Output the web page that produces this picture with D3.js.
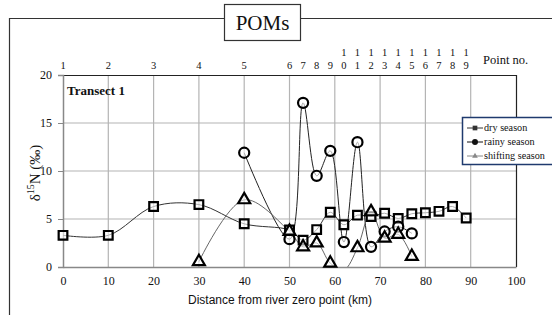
<!DOCTYPE html>
<html>
<head>
<meta charset="utf-8">
<script src="https://cdn.jsdelivr.net/npm/d3@7"></script>
<style>
    body { margin: 0; background: #fff; }
    svg { display: block; }
    text { fill: #111; }
</style>
</head>
<body>
<div id="chart"></div>
<script>
// distances (km) of the sampling points
const distances = [0, 10, 20, 30, 40, 50, 53, 56, 59, 62, 65, 68, 71, 74, 77, 80, 83, 86, 89];
const pointNos = ["1", "2", "3", "4", "5", "6", "7", "8", "9", "10", "11", "12", "13", "14", "15", "16", "17", "18", "19"];

const dryValues = [3.3, 3.3, 6.3, 6.5, 4.5, 3.85, 2.8, 3.9, 5.7, 4.4, 5.4, 5.25, 5.6, 5.05, 5.55, 5.65, 5.8, 6.3, 5.1];

const rainyDist = [40, 50, 53, 56, 59, 62, 65, 68, 71, 74, 77];
const rainyValues = [11.9, 2.9, 17.1, 9.5, 12.1, 2.6, 13.0, 2.1, 3.7, 4.2, 3.5];

const shiftDist = [30, 40, 50, 53, 56, 59, 62, 65, 68, 71, 74, 77];
const shiftValues = [0.55, 7.0, 3.7, 2.1, 2.5, 0.4, -0.3, 2.0, 5.75, 3.0, 3.4, 1.1];

const xTicks = [0, 10, 20, 30, 40, 50, 60, 70, 80, 90, 100];
const yTicks = [0, 5, 10, 15, 20];

const seriesNames = ["dry season", "rainy season", "shifting season"];

const W = 552, H = 315;
const plot = {left: 63, right: 516, top: 75, bottom: 267};

const svg = d3.select('#chart')
    .append('svg')
    .attr('width', W)
    .attr('height', H);

const x = d3.scaleLinear().domain([0, 100]).range([plot.left, plot.right]);
const y = d3.scaleLinear().domain([0, 20]).range([plot.bottom, plot.top]);

// outer frame with the title box
svg.append('path')
    .attr('d', `M9.5,${H} V18.5 H224 M301,18.5 H${W}`)
    .attr('fill', 'none')
    .attr('stroke', '#333')
    .attr('stroke-width', 1.2);

svg.append('rect')
    .attr('x', 224.5).attr('y', 4.5)
    .attr('width', 76).attr('height', 36)
    .attr('fill', '#fff')
    .attr('stroke', '#333')
    .attr('stroke-width', 1.2);

svg.append('text')
    .attr('x', 262.5).attr('y', 30)
    .attr('text-anchor', 'middle')
    .style('font-family', 'Liberation Serif, serif')
    .style('font-size', '21px')
    .text('POMs');

// grid
svg.append('g')
    .selectAll('line')
    .data(xTicks.slice(1, -1))
    .enter().append('line')
    .attr('x1', d => x(d)).attr('x2', d => x(d))
    .attr('y1', plot.top).attr('y2', plot.bottom)
    .attr('stroke', '#b4b4b4')
    .attr('stroke-width', 1.2);

svg.append('g')
    .selectAll('line')
    .data(yTicks.slice(1, -1))
    .enter().append('line')
    .attr('x1', plot.left).attr('x2', plot.right)
    .attr('y1', d => y(d)).attr('y2', d => y(d))
    .attr('stroke', '#b4b4b4')
    .attr('stroke-width', 1.2);

// plot border top / right
svg.append('path')
    .attr('d', `M${plot.left},${plot.top + 0.5} H${plot.right + 0.5} V${plot.bottom}`)
    .attr('fill', 'none')
    .attr('stroke', '#222')
    .attr('stroke-width', 1.2);

// axes
const xAxis = svg.append('g')
    .attr('transform', `translate(0,${plot.bottom})`)
    .call(d3.axisBottom(x).tickValues(xTicks).tickSize(0).tickPadding(9));
xAxis.select('.domain').attr('stroke', '#888').attr('stroke-width', 1.5);
xAxis.selectAll('text')
    .style('font-family', 'Liberation Serif, serif')
    .style('font-size', '12px');

const yAxis = svg.append('g')
    .attr('transform', `translate(${plot.left},0)`)
    .call(d3.axisLeft(y).tickValues(yTicks).tickSize(5).tickPadding(6));
yAxis.select('.domain').attr('stroke', '#888').attr('stroke-width', 1.5);
yAxis.selectAll('line').attr('stroke', '#888');
yAxis.selectAll('text')
    .style('font-family', 'Liberation Serif, serif')
    .style('font-size', '12px');

// top point numbers, two digit numbers are stacked
const pointAxis = svg.append('g')
    .style('font-family', 'Liberation Serif, serif')
    .style('font-size', '10.5px');
pointNos.forEach((p, i) => {
    const t = pointAxis.append('text')
        .attr('x', x(distances[i]))
        .attr('text-anchor', 'middle');
    if (p.length === 1) {
        t.attr('y', 69).text(p);
    } else {
        t.append('tspan').attr('x', x(distances[i])).attr('y', 56).text(p[0]);
        t.append('tspan').attr('x', x(distances[i])).attr('y', 69).text(p[1]);
    }
});

svg.append('text')
    .attr('x', 483).attr('y', 64)
    .style('font-family', 'Liberation Serif, serif')
    .style('font-size', '12.5px')
    .text('Point no.');

svg.append('text')
    .attr('x', 67).attr('y', 95)
    .style('font-family', 'Liberation Serif, serif')
    .style('font-size', '13px')
    .style('font-weight', 'bold')
    .text('Transect 1');

// axis titles
svg.append('text')
    .attr('x', 280).attr('y', 304)
    .attr('text-anchor', 'middle')
    .style('font-family', 'Liberation Sans, sans-serif')
    .style('font-size', '12px')
    .text('Distance from river zero point (km)');

const yTitle = svg.append('text')
    .attr('transform', `translate(40,${(plot.top + plot.bottom) / 2 + 2}) rotate(-90)`)
    .attr('text-anchor', 'middle')
    .style('font-family', 'Liberation Serif, serif')
    .style('font-size', '15px');
yTitle.append('tspan').text('δ');
yTitle.append('tspan').attr('dy', -6).style('font-size', '10px').text('15');
yTitle.append('tspan').attr('dy', 6).text('N (‰)');

// series
svg.append('clipPath').attr('id', 'plotClip')
    .append('rect')
    .attr('x', plot.left).attr('y', plot.top)
    .attr('width', plot.right - plot.left).attr('height', plot.bottom - plot.top);

const line = d3.line()
    .x(d => x(d[0]))
    .y(d => y(d[1]))
    .curve(d3.curveCatmullRom.alpha(0.5));

const dry = distances.map((d, i) => [d, dryValues[i]]);
const rainy = rainyDist.map((d, i) => [d, rainyValues[i]]);
const shifting = shiftDist.map((d, i) => [d, shiftValues[i]]);

const series = [
    {data: dry, stroke: '#333', shape: d3.symbolSquare, size: 75},
    {data: rainy, stroke: '#222', shape: d3.symbolCircle, size: 80},
    {data: shifting, stroke: '#666', shape: d3.symbolTriangle, size: 62}
];

series.forEach(s => {
    svg.append('path')
        .datum(s.data)
        .attr('clip-path', 'url(#plotClip)')
        .attr('fill', 'none')
        .attr('stroke', s.stroke)
        .attr('stroke-width', 1)
        .attr('d', line);
});

series.forEach(s => {
    svg.append('g')
        .selectAll('path')
        .data(s.data.filter(d => d[1] >= 0))
        .enter().append('path')
        .attr('transform', d => `translate(${x(d[0])},${y(d[1])})`)
        .attr('d', d3.symbol().type(s.shape).size(s.size))
        .attr('fill', '#fff')
        .attr('fill-opacity', 0.6)
        .attr('stroke', '#000')
        .attr('stroke-width', 2.2);
});

// legend
const legend = svg.append('g').attr('transform', 'translate(462,117)');
legend.append('rect')
    .attr('x', 0.5).attr('y', 0.5)
    .attr('width', 100).attr('height', 47)
    .attr('fill', '#fff')
    .attr('stroke', '#1f3a6e')
    .attr('stroke-width', 1.5);

const legendMarks = [
    {shape: d3.symbolSquare, size: 22, color: '#333'},
    {shape: d3.symbolCircle, size: 28, color: '#111'},
    {shape: d3.symbolTriangle, size: 14, color: '#888'}
];

seriesNames.forEach((name, i) => {
    const g = legend.append('g').attr('transform', `translate(0,${11 + i * 14})`);
    g.append('line')
        .attr('x1', 5).attr('x2', 21)
        .attr('stroke', legendMarks[i].color)
        .attr('stroke-width', 1);
    g.append('path')
        .attr('transform', 'translate(13,0)')
        .attr('d', d3.symbol().type(legendMarks[i].shape).size(legendMarks[i].size))
        .attr('fill', legendMarks[i].color);
    g.append('text')
        .attr('x', 22).attr('y', 3)
        .style('font-family', 'Liberation Serif, serif')
        .style('font-size', '10.2px')
        .text(name);
});
</script>
</body>
</html>
